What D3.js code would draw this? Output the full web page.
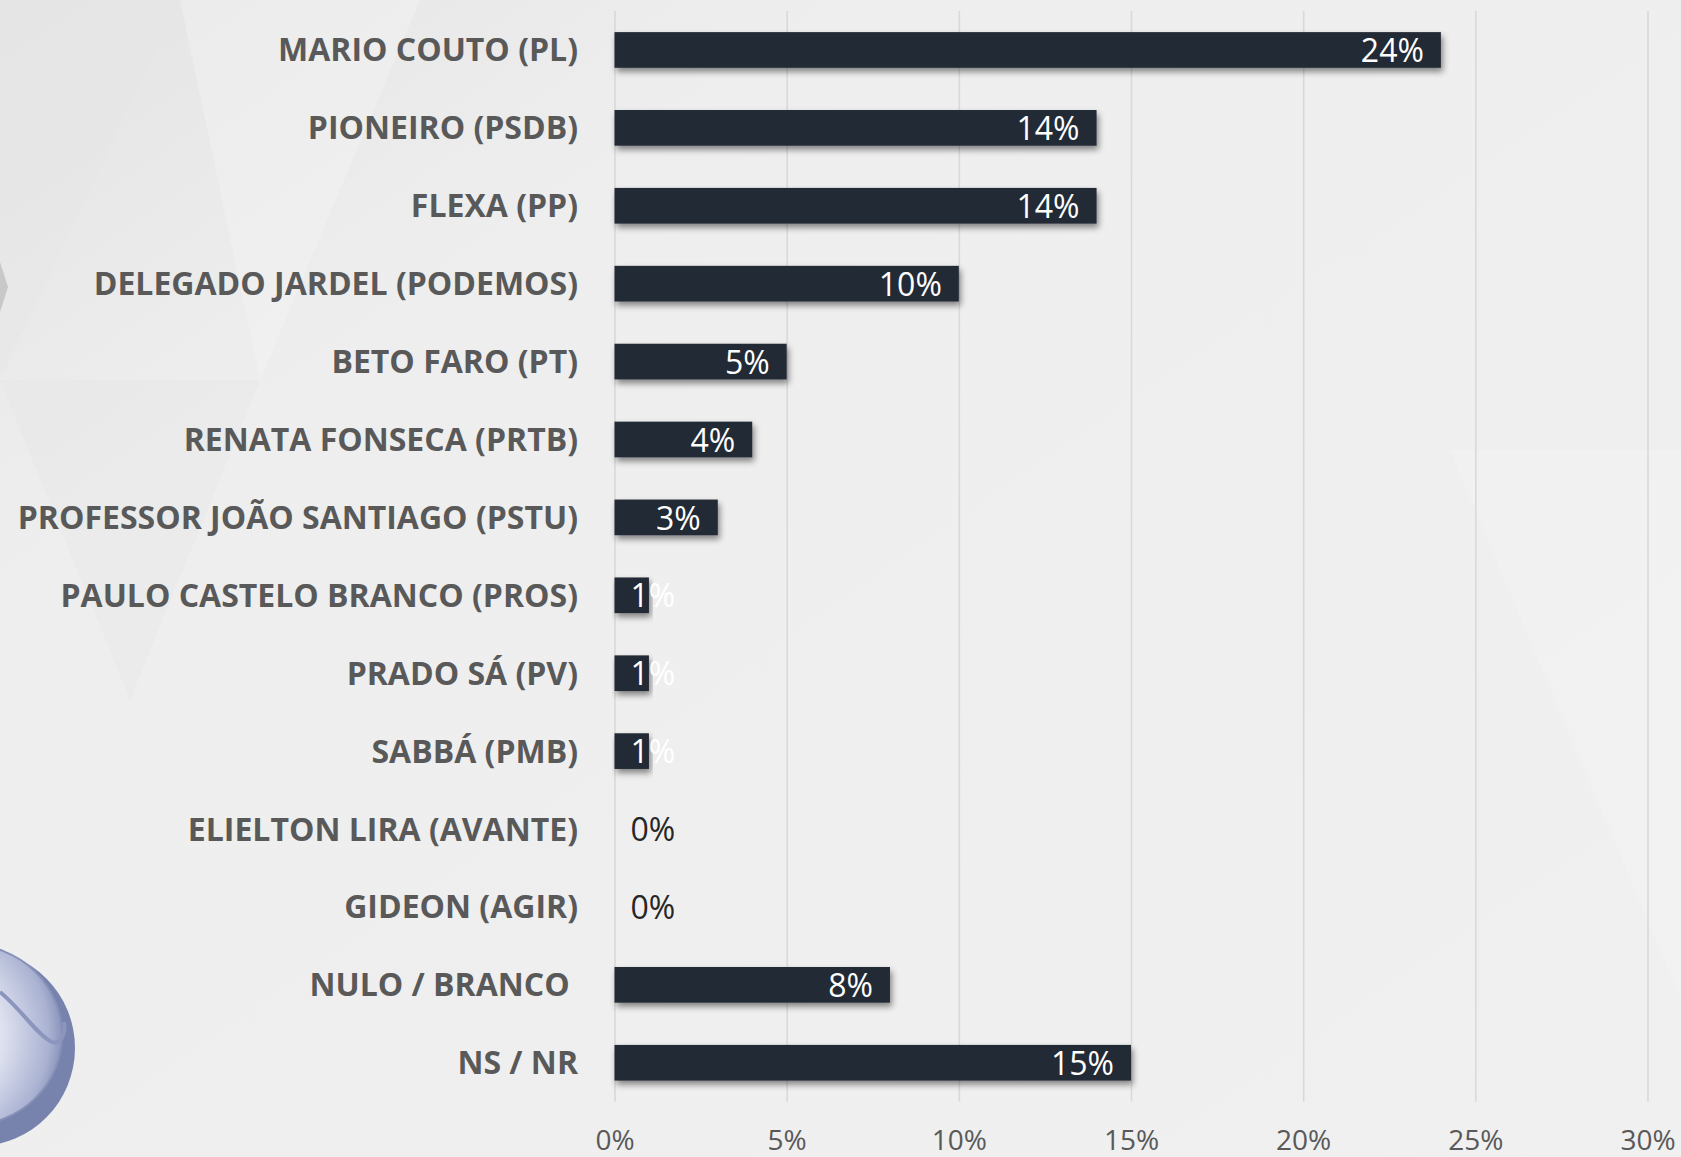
<!DOCTYPE html>
<html>
<head>
<meta charset="utf-8">
<script src="https://cdn.jsdelivr.net/npm/d3@7"></script>
<style>
  html, body { margin: 0; padding: 0; background: #efefef; overflow: hidden; }
  #chart { width: 1681px; height: 1157px; }
</style>
</head>
<body>
<div id="chart"></div>
<script>
// Data
const candidates = [
  'MARIO COUTO (PL)', 'PIONEIRO (PSDB)', 'FLEXA (PP)', 'DELEGADO JARDEL (PODEMOS)',
  'BETO FARO (PT)', 'RENATA FONSECA (PRTB)', 'PROFESSOR JOÃO SANTIAGO (PSTU)',
  'PAULO CASTELO BRANCO (PROS)', 'PRADO SÁ (PV)', 'SABBÁ (PMB)', 'ELIELTON LIRA (AVANTE)',
  'GIDEON (AGIR)', 'NULO / BRANCO ', 'NS / NR'
];
const shares = [0.24, 0.14, 0.14, 0.10, 0.05, 0.04, 0.03, 0.01, 0.01, 0.01, 0, 0, 0.08, 0.15];
const ticks = [0, 0.05, 0.10, 0.15, 0.20, 0.25, 0.30];

function drawChart() {
    const W = 1681, H = 1157;

    const svg = d3.select('#chart')
        .append('svg')
        .attr('width', W)
        .attr('height', H);

    const defs = svg.append('defs');

    // drop shadow for bars
    const shadow = defs.append('filter')
        .attr('id', 'shadow')
        .attr('x', '-5%').attr('y', '-30%')
        .attr('width', '115%').attr('height', '180%');
    shadow.append('feDropShadow')
        .attr('dx', 2).attr('dy', 4)
        .attr('stdDeviation', 3)
        .attr('flood-color', '#000')
        .attr('flood-opacity', 0.45);

    // logo gradients
    const lg = defs.append('radialGradient')
        .attr('id', 'logoGrad')
        .attr('cx', '25%').attr('cy', '50%').attr('r', '80%');
    lg.append('stop').attr('offset', '0%').attr('stop-color', '#ffffff');
    lg.append('stop').attr('offset', '50%').attr('stop-color', '#e3e6f2');
    lg.append('stop').attr('offset', '85%').attr('stop-color', '#aab2d2');
    lg.append('stop').attr('offset', '100%').attr('stop-color', '#7580ab');

    const bgGrad = defs.append('linearGradient')
        .attr('id', 'bgGrad')
        .attr('x1', 0).attr('y1', 0).attr('x2', 1).attr('y2', 1);
    bgGrad.append('stop').attr('offset', '0%').attr('stop-color', '#e4e4e4');
    bgGrad.append('stop').attr('offset', '25%').attr('stop-color', '#eeeeee');
    bgGrad.append('stop').attr('offset', '100%').attr('stop-color', '#f0f0f0');

    // Background
    svg.append('rect')
        .attr('width', W).attr('height', H)
        .attr('fill', 'url(#bgGrad)');

    // faint geometric shapes in background
    const shapes = [
        [[0, 0], [180, 0], [0, 380]],
        [[180, 0], [420, 0], [260, 380]],
        [[0, 380], [260, 380], [130, 700]],
        [[1450, 450], [1681, 450], [1681, 1000]]
    ];
    svg.append('g')
        .selectAll('path')
        .data(shapes)
        .enter()
        .append('path')
        .attr('d', d => d3.line()(d) + 'Z')
        .attr('fill', (d, i) => i % 2 ? '#f6f6f6' : '#e6e6e6')
        .attr('opacity', 0.4);

    // small chevron at the left edge
    svg.append('path')
        .attr('d', 'M0,262 L8,287 L0,312 Z')
        .attr('fill', '#c8c8c8');

    // logo partly cut off at bottom left
    const logo = svg.append('g');
    logo.append('ellipse')
        .attr('cx', -22).attr('cy', 1048)
        .attr('rx', 97).attr('ry', 98)
        .attr('fill', '#7883ad');
    logo.append('ellipse')
        .attr('cx', -30).attr('cy', 1035)
        .attr('rx', 92).attr('ry', 90)
        .attr('fill', 'url(#logoGrad)')
        .attr('stroke', '#8690b8')
        .attr('stroke-width', 2);
    logo.append('path')
        .attr('d', 'M0,992 C22,1010 38,1036 52,1042 C60,1045 66,1035 64,1022')
        .attr('fill', 'none')
        .attr('stroke', '#8b95bd')
        .attr('stroke-width', 4);

    // Scales
    const x = d3.scaleLinear()
        .domain([0, 0.30])
        .range([614.5, 1647.5]);

    const y = d3.scaleBand()
        .domain(candidates)
        .range([11, 1101.7])
        .paddingInner(0.542)
        .paddingOuter(0.271);

    // Grid lines
    svg.append('g')
        .attr('class', 'grid')
        .call(d3.axisBottom(x)
            .tickValues(ticks)
            .tickSize(1101.7 - 11)
            .tickFormat(''))
        .attr('transform', 'translate(0,11)')
        .call(g => g.select('.domain').remove())
        .call(g => g.selectAll('line')
            .attr('stroke', '#d9d9d9')
            .attr('stroke-width', 1.6));

    // x-axis labels
    svg.append('g')
        .attr('transform', 'translate(0,1101.7)')
        .call(d3.axisBottom(x)
            .tickValues(ticks)
            .tickSize(0)
            .tickPadding(0)
            .tickFormat(d3.format('.0%')))
        .call(g => g.select('.domain').remove())
        .call(g => g.selectAll('text')
            .attr('y', 48)
            .attr('dy', 0)
            .style('font-family', '"Open Sans", sans-serif')
            .style('font-size', '28px')
            .style('fill', '#595959'));

    // Category labels
    svg.append('g')
        .attr('transform', 'translate(578,0)')
        .call(d3.axisLeft(y).tickSize(0).tickPadding(0))
        .call(g => g.select('.domain').remove())
        .call(g => g.selectAll('text')
            .attr('dy', '0.36em')
            .style('white-space', 'pre')
            .style('font-family', '"Open Sans", sans-serif')
            .style('font-weight', 700)
            .style('font-size', '32px')
            .style('fill', '#595959'));

    // Bars
    svg.append('g')
        .selectAll('.bar')
        .data(shares)
        .enter()
        .append('rect')
        .attr('class', 'bar')
        .attr('x', x(0))
        .attr('y', (d, i) => y(candidates[i]))
        .attr('width', d => x(d) - x(0))
        .attr('height', y.bandwidth())
        .attr('fill', '#232a35')
        .attr('filter', d => d > 0 ? 'url(#shadow)' : null);

    // Value labels
    const fmt = d3.format('.0%');
    const labels = svg.append('g')
        .selectAll('text')
        .data(shares)
        .enter()
        .append('text')
        .attr('y', (d, i) => y(candidates[i]) + y.bandwidth() / 2)
        .attr('dy', '0.38em')
        .style('font-family', '"Open Sans", sans-serif')
        .style('font-size', '32px')
        .style('fill', d => d > 0 ? '#ffffff' : '#262626')
        .text(d => fmt(d));

    labels.each(function(d) {
        const w = this.getComputedTextLength();
        const right = Math.max(x(d) - 17, x(0) + 16 + w);
        d3.select(this)
            .attr('x', right)
            .attr('text-anchor', 'end');
    });
}

document.addEventListener('DOMContentLoaded', drawChart);
</script>
</body>
</html>
